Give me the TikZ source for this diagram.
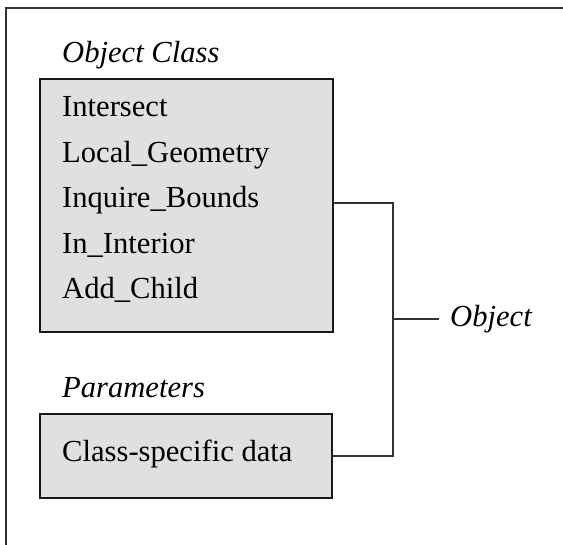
\documentclass[tikz,border=0pt]{standalone}
\usepackage{fontspec}
\setmainfont{Liberation Serif}
\definecolor{boxgray}{HTML}{E0E0E0}
\begin{document}
\begin{tikzpicture}[x=1pt,y=-1pt,
    box/.style={draw=black!90,line width=2pt,fill=boxgray,anchor=north west,inner sep=0pt},
    item/.style={anchor=base west,inner sep=0pt,font=\fontsize{30.6}{36}\selectfont},
    head/.style={item,font=\fontsize{30.6}{36}\selectfont\itshape},
    wire/.style={line width=1.3pt,draw=black!80}]
  \useasboundingbox (0,0) rectangle (563,545);
  \draw[wire] (563,8) -- (6,8) -- (6,545);
  \node[head] (clshead) at (62,63) {Object Class};
  \node[box,minimum width=293pt,minimum height=253pt] (cls) at (39,78) {};
  \node[item] (m1) at (62,117) {Intersect};
  \node[item] (m2) at (62,162.5) {Local\_Geometry};
  \node[item] (m3) at (62,208) {Inquire\_Bounds};
  \node[item] (m4) at (62,253.5) {In\_Interior};
  \node[item] (m5) at (62,299) {Add\_Child};
  \node[head] (parhead) at (62,398) {Parameters};
  \node[box,minimum width=292pt,minimum height=84pt] (par) at (39,413) {};
  \node[item] (d1) at (62,462) {Class-specific data};
  \coordinate (j) at (393,319);
  \node[head,anchor=west,inner sep=0pt] (obj) at (450,319) {Object};
  \draw[wire] (cls.east |- 0,203) -- (j |- 0,203) -- (j |- par.east) -- (par.east);
  \draw[wire] (j) -- ([xshift=-11pt]obj.west);
\end{tikzpicture}
\end{document}
